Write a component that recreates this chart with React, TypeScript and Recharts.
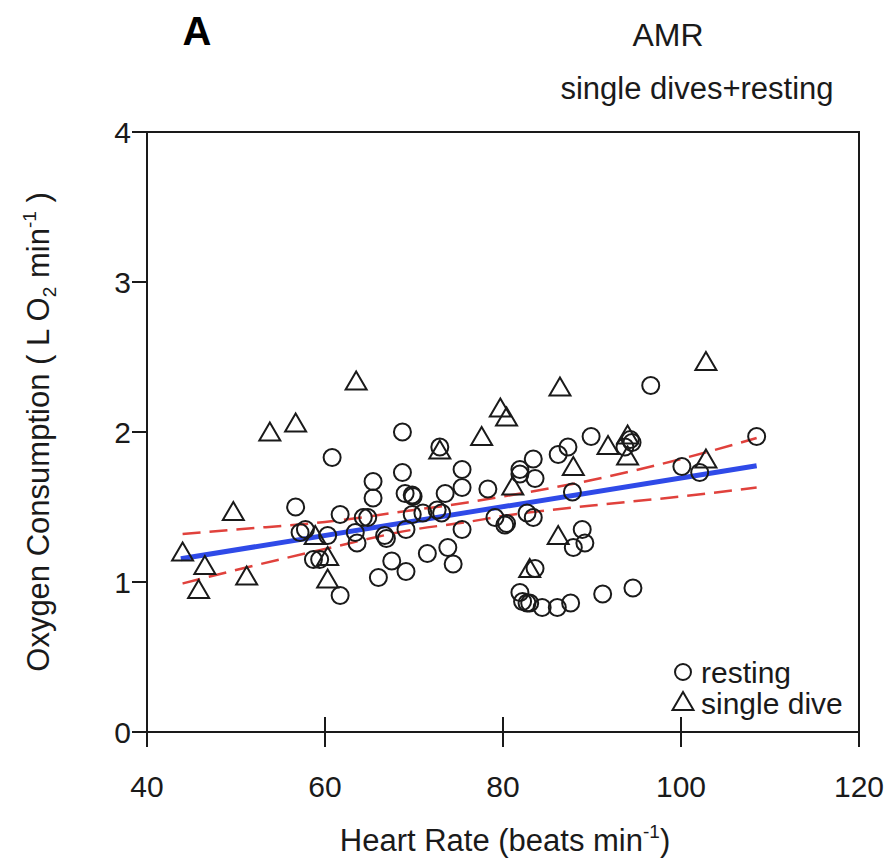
import React from "react";
import {
  ComposedChart,
  Scatter,
  Line,
  XAxis,
  YAxis,
  ReferenceArea,
} from "recharts";

// ---- data ----
const restingHR = [
  60.8, 56.7, 61.7, 57.2, 57.8, 60.3, 58.7, 59.4, 61.7, 68.7, 68.7, 65.4, 65.4,
  69.0, 69.8, 69.9, 75.4, 75.4, 73.5, 78.3, 64.3, 64.8, 63.4, 63.6, 66.7, 66.9,
  69.1, 69.8, 71.0, 72.6, 73.1, 75.4, 73.8, 71.5, 67.5, 69.1, 66.0, 74.4, 79.1,
  80.2, 72.9, 89.9, 87.3, 86.2, 94.3, 94.5, 93.7, 83.4, 81.9, 81.9, 83.6, 87.8,
  82.7, 83.4, 80.4, 88.9, 89.2, 87.9, 83.6, 81.9, 82.2, 82.7, 83.0, 84.4, 86.1,
  87.6, 91.2, 94.6, 96.6, 100.1, 102.1, 108.5,
];
const restingVO2 = [
  1.83, 1.5, 1.45, 1.33, 1.35, 1.31, 1.15, 1.15, 0.91, 2.0, 1.73, 1.67, 1.56,
  1.59, 1.58, 1.57, 1.75, 1.63, 1.59, 1.62, 1.43, 1.43, 1.33, 1.26, 1.31, 1.29,
  1.35, 1.45, 1.46, 1.48, 1.46, 1.35, 1.23, 1.19, 1.14, 1.07, 1.03, 1.12, 1.43,
  1.38, 1.9, 1.97, 1.9, 1.85, 1.95, 1.93, 1.9, 1.82, 1.75, 1.72, 1.69, 1.6,
  1.46, 1.43, 1.39, 1.35, 1.26, 1.23, 1.09, 0.93, 0.87, 0.86, 0.86, 0.83, 0.83,
  0.86, 0.92, 0.96, 2.31, 1.77, 1.73, 1.97,
];
const diveHR = [
  44.0, 46.5, 45.8, 51.2, 49.7, 53.8, 56.7, 58.9, 60.3, 60.3, 63.5, 72.9, 77.6,
  79.7, 80.4, 81.1, 83.0, 86.2, 86.4, 87.9, 91.8, 94.0, 94.0, 102.8, 102.8,
];
const diveVO2 = [
  1.19, 1.1, 0.94, 1.03, 1.46, 1.99, 2.05, 1.3, 1.16, 1.01, 2.33, 1.87, 1.96,
  2.15, 2.09, 1.63, 1.08, 1.3, 2.29, 1.76, 1.9, 1.97, 1.83, 2.46, 1.81,
];
const fitHR = [43.8, 108.5];
const fitVO2 = [1.155, 1.775];
const ciHR = [44, 50, 60, 70, 76, 80, 90, 100, 108.5];
const ciUpper = [1.32, 1.35, 1.4, 1.48, 1.53, 1.57, 1.68, 1.82, 1.96];
const ciLower = [0.99, 1.08, 1.22, 1.35, 1.4, 1.44, 1.51, 1.57, 1.63];
const xTicks = [40, 60, 80, 100, 120];
const yTicks = [0, 1, 2, 3, 4];
const legendLabels = ["resting", "single dive"];

const restingData = restingHR.map((x, i) => ({ x, y: restingVO2[i] }));
const diveData = diveHR.map((x, i) => ({ x, y: diveVO2[i] }));
const fitData = fitHR.map((x, i) => ({ x, y: fitVO2[i] }));
const upperData = ciHR.map((x, i) => ({ x, y: ciUpper[i] }));
const lowerData = ciHR.map((x, i) => ({ x, y: ciLower[i] }));

const FONT = "'Liberation Sans', Arial, Helvetica, sans-serif";
const INK = "#1a1a1a";

const CircleShape = (p: any) => (
  <circle cx={p.cx} cy={p.cy} r={8.5} fill="none" stroke={INK} strokeWidth={2} />
);
const TriangleShape = (p: any) => (
  <polygon
    points={`${p.cx},${p.cy - 11} ${p.cx - 10.5},${p.cy + 7} ${p.cx + 10.5},${p.cy + 7}`}
    fill="none"
    stroke={INK}
    strokeWidth={2}
  />
);

const XTick = (p: any) => {
  const { x, y, payload } = p;
  return (
    <g>
      <line x1={x} x2={x} y1={y - 15} y2={y + 15} stroke={INK} strokeWidth={2} />
      <text x={x} y={y + 65} textAnchor="middle" fontSize={30} fontFamily={FONT} fill={INK}>
        {payload.value}
      </text>
    </g>
  );
};

export default function App() {
  return (
    <div style={{ position: "absolute", left: 0, top: 0, width: 889, height: 865, background: "#fff" }}>
      <ComposedChart
        width={889}
        height={865}
        margin={{ top: 132, right: 30, bottom: 53, left: 47 }}
      >
        <XAxis
          type="number"
          dataKey="x"
          domain={[40, 120]}
          ticks={xTicks}
          allowDataOverflow
          height={80}
          tickSize={0}
          tickMargin={0}
          tickLine={false}
          tick={<XTick />}
          axisLine={{ stroke: INK, strokeWidth: 2 }}
        />
        <YAxis
          type="number"
          dataKey="y"
          domain={[0, 4]}
          ticks={yTicks}
          allowDataOverflow
          width={100}
          tickSize={15}
          tickMargin={1}
          tickLine={{ stroke: INK, strokeWidth: 2 }}
          axisLine={{ stroke: INK, strokeWidth: 2 }}
          tick={{ fontSize: 30, fontFamily: FONT, fill: INK }}
        />
        <ReferenceArea
          x1={40}
          x2={120}
          y1={0}
          y2={4}
          fill="none"
          stroke={INK}
          strokeWidth={2}
          ifOverflow="visible"
        />
        <Line
          data={upperData}
          dataKey="y"
          type="monotone"
          stroke="#e0413c"
          strokeWidth={2.5}
          strokeDasharray="18 9"
          dot={false}
          activeDot={false}
          isAnimationActive={false}
        />
        <Line
          data={lowerData}
          dataKey="y"
          type="monotone"
          stroke="#e0413c"
          strokeWidth={2.5}
          strokeDasharray="18 9"
          dot={false}
          activeDot={false}
          isAnimationActive={false}
        />
        <Line
          data={fitData}
          dataKey="y"
          type="linear"
          stroke="#2f4ae8"
          strokeWidth={5}
          dot={false}
          activeDot={false}
          isAnimationActive={false}
        />
        <Scatter name="resting" data={restingData} shape={CircleShape} isAnimationActive={false} />
        <Scatter name="single dive" data={diveData} shape={TriangleShape} isAnimationActive={false} />
      </ComposedChart>
      <svg
        width={889}
        height={865}
        style={{ position: "absolute", left: 0, top: 0, pointerEvents: "none" }}
      >
        <text x={197} y={45} textAnchor="middle" fontSize={40} fontWeight="bold" fontFamily={FONT} fill="#000">
          A
        </text>
        <text x={668} y={46} textAnchor="middle" fontSize={32} fontFamily={FONT} fill={INK}>
          AMR
        </text>
        <text x={697} y={99} textAnchor="middle" fontSize={31} fontFamily={FONT} fill={INK}>
          single dives+resting
        </text>
        {/* legend */}
        <circle cx={683} cy={672} r={8} fill="none" stroke={INK} strokeWidth={2} />
        <text x={701} y={683} fontSize={30} fontFamily={FONT} fill={INK}>
          {legendLabels[0]}
        </text>
        <polygon points="683,692 672.5,710 693.5,710" fill="none" stroke={INK} strokeWidth={2} />
        <text x={701} y={714} fontSize={30} fontFamily={FONT} fill={INK}>
          {legendLabels[1]}
        </text>
        <text x={505} y={851} textAnchor="middle" fontSize={31} fontFamily={FONT} fill={INK}>
          Heart Rate (beats min
          <tspan fontSize={19} dy={-13}>-1</tspan>
          <tspan dy={13}>)</tspan>
        </text>
        <text
          transform="translate(49,432) rotate(-90)"
          x={0}
          y={0}
          textAnchor="middle"
          fontSize={31}
          fontFamily={FONT}
          fill={INK}
        >
          Oxygen Consumption ( L O
          <tspan fontSize={19} dy={7}>2</tspan>
          <tspan dy={-7}> min</tspan>
          <tspan fontSize={19} dy={-13}>-1</tspan>
          <tspan dy={13}> )</tspan>
        </text>
      </svg>
    </div>
  );
}
